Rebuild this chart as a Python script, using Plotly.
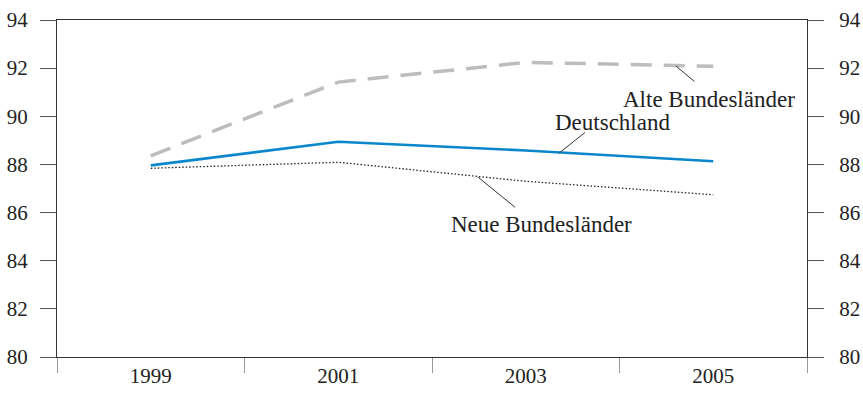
import plotly.graph_objects as go

years = ["1999", "2001", "2003", "2005"]
deutschland = [87.96, 88.94, 88.58, 88.13]
alte = [88.36, 91.42, 92.24, 92.08]
neue = [87.84, 88.09, 87.30, 86.74]
y_ticks = [80, 82, 84, 86, 88, 90, 92, 94]

FONT = "Liberation Serif"
fig = go.Figure()
fig.add_trace(go.Scatter(x=years, y=alte, mode="lines", name="Alte Bundesländer",
                         line=dict(color="#bdbdbf", width=3.5, dash="21px,12px"), showlegend=False))
fig.add_trace(go.Scatter(x=years, y=neue, mode="lines", name="Neue Bundesländer",
                         line=dict(color="#222222", width=1.3, dash="1.5px,2px"), showlegend=False))
fig.add_trace(go.Scatter(x=years, y=deutschland, mode="lines", name="Deutschland",
                         line=dict(color="#0a86cc", width=2.6), showlegend=False))
# invisible trace to show the right axis
fig.add_trace(go.Scatter(x=years, y=deutschland, yaxis="y2", mode="lines",
                         line=dict(width=0), opacity=0, showlegend=False, hoverinfo="skip"))

labels = [
    # text, text x, text y, head x, head y, tail x, tail y
    ("Alte Bundesländer", 2.975, 90.70, 2.801, 92.09, 2.899, 91.45),
    ("Deutschland", 2.463, 89.73, 2.179, 88.475, 2.316, 89.33),
    ("Neue Bundesländer", 2.084, 85.50, 1.744, 87.48, 1.943, 86.22),
]
for t, tx, ty, hx, hy, sx, sy in labels:
    fig.add_annotation(x=tx, y=ty, xref="x", yref="y", text=t, showarrow=False,
                       font=dict(family=FONT, size=23, color="#222222"))
    fig.add_shape(type="line", x0=hx, y0=hy, x1=sx, y1=sy, xref="x", yref="y",
                  line=dict(color="#333333", width=1))

axis_common = dict(range=[80, 94], tickvals=y_ticks, ticks="outside", ticklen=16,
                   tickcolor="#555555", tickwidth=1, showgrid=False, zeroline=False,
                   showline=True, linecolor="#333333", linewidth=1.3, automargin=False,
                   tickfont=dict(family=FONT, size=21, color="#222222"))
fig.update_layout(
    width=863, height=404,
    margin=dict(l=57, r=56, t=20, b=47),
    plot_bgcolor="white", paper_bgcolor="white",
    xaxis=dict(type="category", range=[-0.5, 3.5], tickson="boundaries", ticks="outside",
               ticklen=15, tickcolor="#999999", tickwidth=1, showgrid=False, automargin=False,
               showline=True, linecolor="#333333", linewidth=1.3, mirror=True,
               tickfont=dict(family=FONT, size=21, color="#222222")),
    yaxis=dict(**axis_common, side="left", ticklabelstandoff=8),
    yaxis2=dict(**axis_common, side="right", overlaying="y", ticklabelstandoff=11),
)
fig.write_html("out.html", config={"displayModeBar": False},
               post_script="document.body.style.margin='0';document.body.style.padding='0';")
